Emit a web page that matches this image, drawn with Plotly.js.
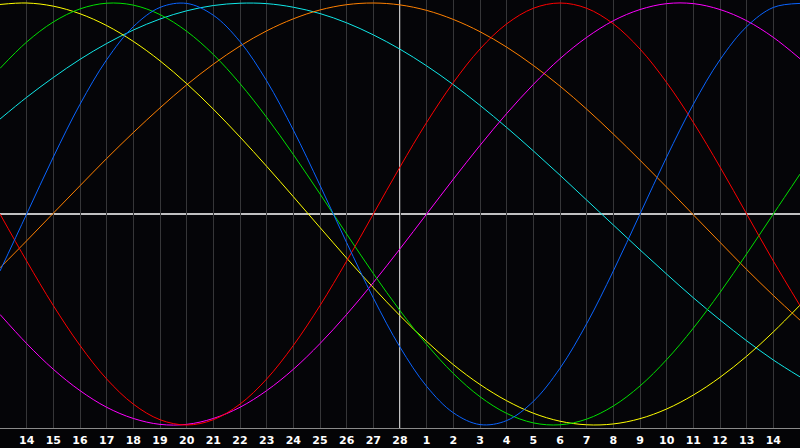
<!DOCTYPE html>
<html>
<head>
<meta charset="utf-8">
<script src="https://cdn.plot.ly/plotly-3.0.1.min.js"></script>
<style>
  html, body { margin: 0; padding: 0; background: #040406; }
  #myDiv { width: 800px; height: 448px; }
</style>
</head>
<body>
<div id="myDiv"></div>
<script>
// day labels under the grid lines (13th .. 15th of next month on the frame edges)
var dayLabels = ["14", "15", "16", "17", "18", "19", "20", "21", "22", "23", "24", "25", "26", "27", "28",
                 "1", "2", "3", "4", "5", "6", "7", "8", "9", "10", "11", "12", "13", "14"];
var dayIndex = [0, 1, 2, 3, 4, 5, 6, 7, 8, 9, 10, 11, 12, 13, 14, 15, 16, 17, 18, 19, 20,
                21, 22, 23, 24, 25, 26, 27, 28, 29, 30];
var todayIndex = 15;

// curve values, one per day, -1 .. 1
var physical     = [-0.270, 0.000, 0.270, 0.520, 0.731, 0.888, 0.979, 0.998, 0.942, 0.817, 0.631, 0.398, 0.136, -0.136, -0.398,
                    -0.631, -0.817, -0.942, -0.998, -0.979, -0.888, -0.731, -0.520, -0.270, 0.000, 0.270, 0.520, 0.731, 0.888, 0.979, 0.998];
var emotional    = [0.000, -0.223, -0.434, -0.623, -0.782, -0.901, -0.975, -1.000, -0.975, -0.901, -0.782, -0.623, -0.434, -0.223, 0.000,
                    0.223, 0.434, 0.623, 0.782, 0.901, 0.975, 1.000, 0.975, 0.901, 0.782, 0.623, 0.434, 0.223, 0.000, -0.223, -0.434];
var intellectual = [0.690, 0.815, 0.910, 0.972, 0.999, 0.990, 0.945, 0.866, 0.756, 0.618, 0.458, 0.282, 0.095, -0.095, -0.282,
                    -0.458, -0.618, -0.756, -0.866, -0.945, -0.990, -0.999, -0.972, -0.910, -0.815, -0.690, -0.541, -0.372, -0.189, 0.000, 0.189];
var intuitive    = [-0.476, -0.614, -0.736, -0.837, -0.916, -0.969, -0.997, -0.997, -0.969, -0.916, -0.837, -0.736, -0.614, -0.476, -0.325,
                    -0.165, 0.000, 0.165, 0.325, 0.476, 0.614, 0.736, 0.837, 0.916, 0.969, 0.997, 0.997, 0.969, 0.916, 0.837, 0.736];
var aesthetic    = [0.993, 1.000, 0.985, 0.949, 0.893, 0.818, 0.726, 0.618, 0.497, 0.365, 0.226, 0.082, -0.064, -0.209, -0.349,
                    -0.482, -0.604, -0.714, -0.808, -0.885, -0.944, -0.982, -0.999, -0.995, -0.970, -0.924, -0.858, -0.774, -0.674, -0.559, -0.432];
var awareness    = [-0.255, -0.127, 0.004, 0.134, 0.263, 0.386, 0.503, 0.612, 0.710, 0.796, 0.868, 0.925, 0.967, 0.992, 1.000,
                    0.991, 0.965, 0.922, 0.864, 0.791, 0.704, 0.606, 0.497, 0.379, 0.255, 0.127, -0.004, -0.134, -0.263, -0.386, -0.503];
var spiritual    = [0.450, 0.553, 0.647, 0.733, 0.808, 0.872, 0.924, 0.963, 0.988, 0.999, 0.997, 0.980, 0.950, 0.906, 0.849,
                    0.781, 0.702, 0.613, 0.515, 0.410, 0.299, 0.184, 0.066, -0.052, -0.170, -0.285, -0.397, -0.502, -0.601, -0.692, -0.772];

var series = [
  { name: "Spiritual",    values: spiritual,    color: "#10e8e8" },
  { name: "Awareness",    values: awareness,    color: "#ff8000" },
  { name: "Aesthetic",    values: aesthetic,    color: "#ffff00" },
  { name: "Intuitive",    values: intuitive,    color: "#ff00ff" },
  { name: "Intellectual", values: intellectual, color: "#00e000" },
  { name: "Emotional",    values: emotional,    color: "#ff0000" },
  { name: "Physical",     values: physical,     color: "#0a64ff" }
];

var data = series.map(function (s) {
  return {
    type: "scatter",
    mode: "lines",
    name: s.name,
    x: dayIndex,
    y: s.values,
    line: { color: s.color, width: 1, shape: "spline", smoothing: 1 },
    hoverinfo: "skip"
  };
});

var layout = {
  width: 800,
  height: 448,
  margin: { t: 0, b: 20, l: 0, r: 0 },
  paper_bgcolor: "#040406",
  plot_bgcolor: "#050508",
  showlegend: false,
  xaxis: {
    range: [0, 30],
    tickvals: dayIndex.slice(1, 30),
    ticktext: dayLabels,
    showgrid: true,
    gridcolor: "#363638",
    gridwidth: 1,
    zeroline: false,
    ticks: "",
    ticklabelstandoff: 2,
    showline: true,
    linecolor: "#8a8a8a",
    linewidth: 1,
    mirror: true,
    tickfont: { family: "DejaVu Sans", size: 11, color: "#ffffff", weight: "bold" },
    fixedrange: true
  },
  yaxis: {
    range: [-1.0142, 1.0142],
    showgrid: false,
    zeroline: false,
    showticklabels: false,
    ticks: "",
    showline: true,
    linecolor: "#8a8a8a",
    linewidth: 1,
    mirror: true,
    fixedrange: true
  },
  shapes: [
    { type: "line", xref: "paper", x0: 0, x1: 1, yref: "y", y0: 0, y1: 0,
      line: { color: "#ffffff", width: 1.5 }, layer: "below" },
    { type: "line", xref: "x", x0: todayIndex, x1: todayIndex, yref: "paper", y0: 0, y1: 1,
      line: { color: "#ffffff", width: 1.5 }, layer: "below" }
  ]
};

Plotly.newPlot("myDiv", data, layout, { displayModeBar: false, staticPlot: true });
</script>
</body>
</html>
